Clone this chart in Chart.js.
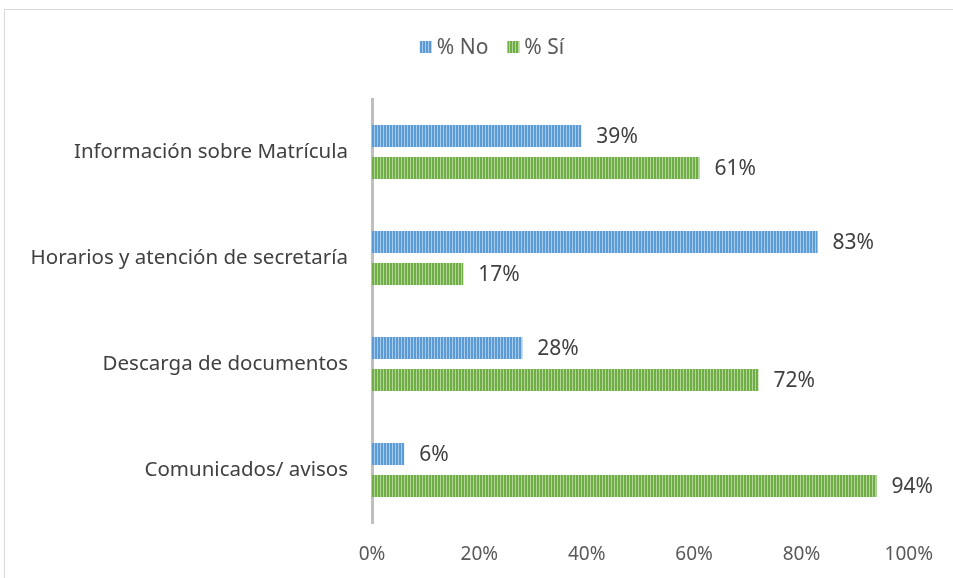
<!DOCTYPE html>
<html>
<head>
<meta charset="utf-8">
<script src="https://cdn.jsdelivr.net/npm/chart.js@4.4.0/dist/chart.umd.min.js"></script>
<style>
  html, body { margin: 0; padding: 0; background: #fff; overflow: hidden; }
  #wrap { position: absolute; left: 0; top: 0; width: 953px; height: 578px; }
  #frame { position: absolute; left: 4px; top: 9px; width: 1000px; height: 700px; border: 1px solid #d9d9d9; }
</style>
</head>
<body>
<div id="frame"></div>
<div id="wrap"><canvas id="chart"></canvas></div>
<script>
// categories, top to bottom
let categorias = ['Información sobre Matrícula', 'Horarios y atención de secretaría', 'Descarga de documentos', 'Comunicados/ avisos']
let valoresNo = [39, 83, 28, 6]
let valoresSi = [61, 17, 72, 94]
let ticksX = [0, 20, 40, 60, 80, 100]

const fuente = "'Noto Sans', sans-serif"

/* striped fill like the Excel pattern */
function rayas(base, clara) {
    let c = document.createElement('canvas')
    c.width = 3
    c.height = 4
    let g = c.getContext('2d')
    g.fillStyle = base
    g.fillRect(0, 0, 3, 4)
    g.fillStyle = clara
    g.fillRect(2, 0, 1, 4)
    return g.createPattern(c, 'repeat')
}

let ctx = document.querySelector('#chart').getContext('2d')
let azul = rayas('#5b9bd5', '#a9cbec')
let verde = rayas('#70ad47', '#b2d697')

/* value labels at the end of each bar */
const etiquetas = {
    id: 'etiquetas',
    afterDatasetsDraw(chart) {
        let c = chart.ctx
        c.save()
        c.font = '21px ' + fuente
        c.fillStyle = '#404040'
        c.textBaseline = 'middle'
        chart.data.datasets.forEach((ds, i) => {
            chart.getDatasetMeta(i).data.forEach((bar, j) => {
                c.fillText(ds.data[j] + '%', bar.x + 15, bar.y + 1)
            })
        })
        c.restore()
    }
}

/* legend on top, centred like the original */
const leyenda = {
    id: 'leyenda',
    afterDraw(chart) {
        let c = chart.ctx
        c.save()
        c.font = '21px ' + fuente
        c.textBaseline = 'middle'
        let ds = chart.data.datasets
        let total = 0
        ds.forEach((d, i) => {
            total += 12 + 5 + c.measureText(d.label).width + (i < ds.length - 1 ? 19 : 0)
        })
        let x = 492 - total / 2
        let y = 47
        ds.forEach(d => {
            c.fillStyle = d.backgroundColor
            c.fillRect(x, y - 6, 12, 12)
            c.fillStyle = '#595959'
            c.fillText(d.label, x + 17, y + 1)
            x += 12 + 5 + c.measureText(d.label).width + 19
        })
        c.restore()
    }
}

let grafico = new Chart(ctx, {
    type: 'bar',
    data: {
        labels: categorias,
        datasets: [
            { label: '% No', data: valoresNo, backgroundColor: azul, categoryPercentage: 0.604, barPercentage: 0.6875 },
            { label: '% Sí', data: valoresSi, backgroundColor: verde, categoryPercentage: 0.604, barPercentage: 0.6875 }
        ]
    },
    options: {
        indexAxis: 'y',
        responsive: true,
        maintainAspectRatio: false,
        animation: false,
        layout: { padding: { top: 99, right: 36, left: 0, bottom: 0 } },
        plugins: {
            legend: { display: false },
            tooltip: { enabled: false }
        },
        scales: {
            x: {
                min: 0,
                max: 100,
                afterBuildTicks(scale) {
                    scale.ticks = ticksX.map(v => ({ value: v }))
                },
                afterFit(scale) { scale.height = 55 },
                grid: { display: false, drawTicks: false },
                border: { display: false },
                ticks: {
                    padding: 20,
                    color: '#595959',
                    font: { family: fuente, size: 19 },
                    callback: v => v + '%'
                }
            },
            y: {
                afterFit(scale) { scale.width = 372 },
                grid: { display: false, drawTicks: false },
                border: { display: true, color: '#bfbfbf', width: 3 },
                ticks: {
                    padding: 24,
                    color: '#404040',
                    font: { family: fuente, size: 20.5 }
                }
            }
        }
    },
    plugins: [etiquetas, leyenda]
})
</script>
</body>
</html>
